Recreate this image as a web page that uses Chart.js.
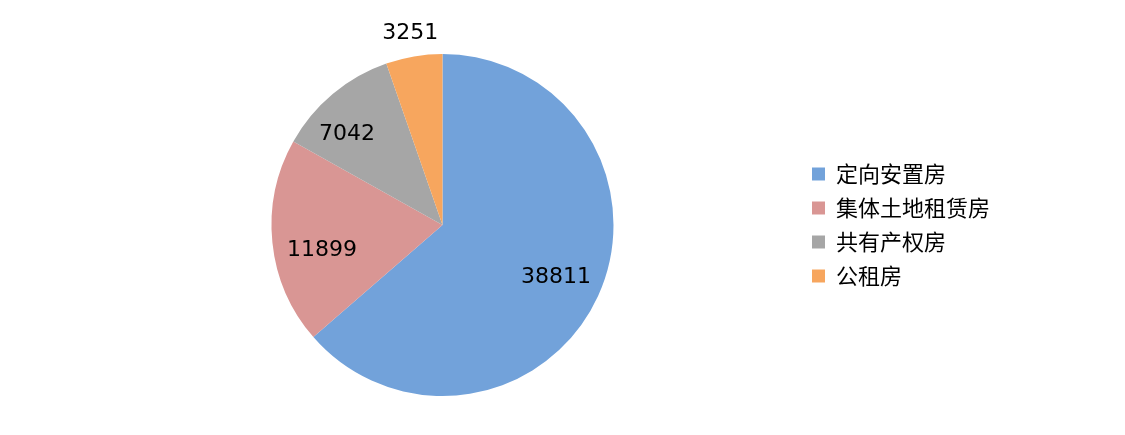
<!DOCTYPE html>
<html>
<head>
<meta charset="utf-8">
<script src="https://cdn.jsdelivr.net/npm/chart.js@4/dist/chart.umd.min.js"></script>
<style>
html,body{margin:0;padding:0;background:#fff;}
#wrap{width:1125px;height:435px;position:relative;}
</style>
</head>
<body>
<div id="wrap"><canvas id="c" width="1125" height="435"></canvas></div>
<script>
const categories = ['定向安置房', '集体土地租赁房', '共有产权房', '公租房'];
const values = [38811, 11899, 7042, 3251];
const colors = ['#72A2DA', '#D99694', '#A6A6A6', '#F7A65E'];
// label placement (style): radius fraction and angle offset in degrees
const labelRadius = [0.73, 0.72, 0.77, 1.135];
const labelAngleOffset = [0, -6, -6.5, 0];

const labelPlugin = {
  id: 'sliceLabels',
  afterDatasetsDraw(chart) {
    const ctx = chart.ctx;
    const meta = chart.getDatasetMeta(0);
    ctx.save();
    ctx.font = '22px "DejaVu Sans"';
    ctx.fillStyle = '#000';
    ctx.textAlign = 'center';
    ctx.textBaseline = 'middle';
    meta.data.forEach((arc, i) => {
      const p = arc.getProps(['x','y','startAngle','endAngle','outerRadius'], true);
      const a = (p.startAngle + p.endAngle) / 2 + labelAngleOffset[i] * Math.PI / 180;
      const r = p.outerRadius * labelRadius[i];
      ctx.fillText(String(chart.data.datasets[0].data[i]), p.x + Math.cos(a) * r, p.y + Math.sin(a) * r);
    });
    ctx.restore();
  }
};

new Chart(document.getElementById('c'), {
  type: 'pie',
  data: {
    labels: categories,
    datasets: [{ data: values, backgroundColor: colors, borderWidth: 0 }]
  },
  options: {
    responsive: false,
    animation: false,
    layout: { padding: { left: 85, right: 125, top: 54, bottom: 39 } },
    plugins: {
      tooltip: { enabled: false },
      legend: {
        position: 'right',
        labels: {
          boxWidth: 13,
          boxHeight: 13,
          padding: 12,
          color: '#000',
          font: { family: '"Noto Sans CJK SC"', size: 22 }
        }
      }
    }
  },
  plugins: [labelPlugin]
});
</script>
</body>
</html>
